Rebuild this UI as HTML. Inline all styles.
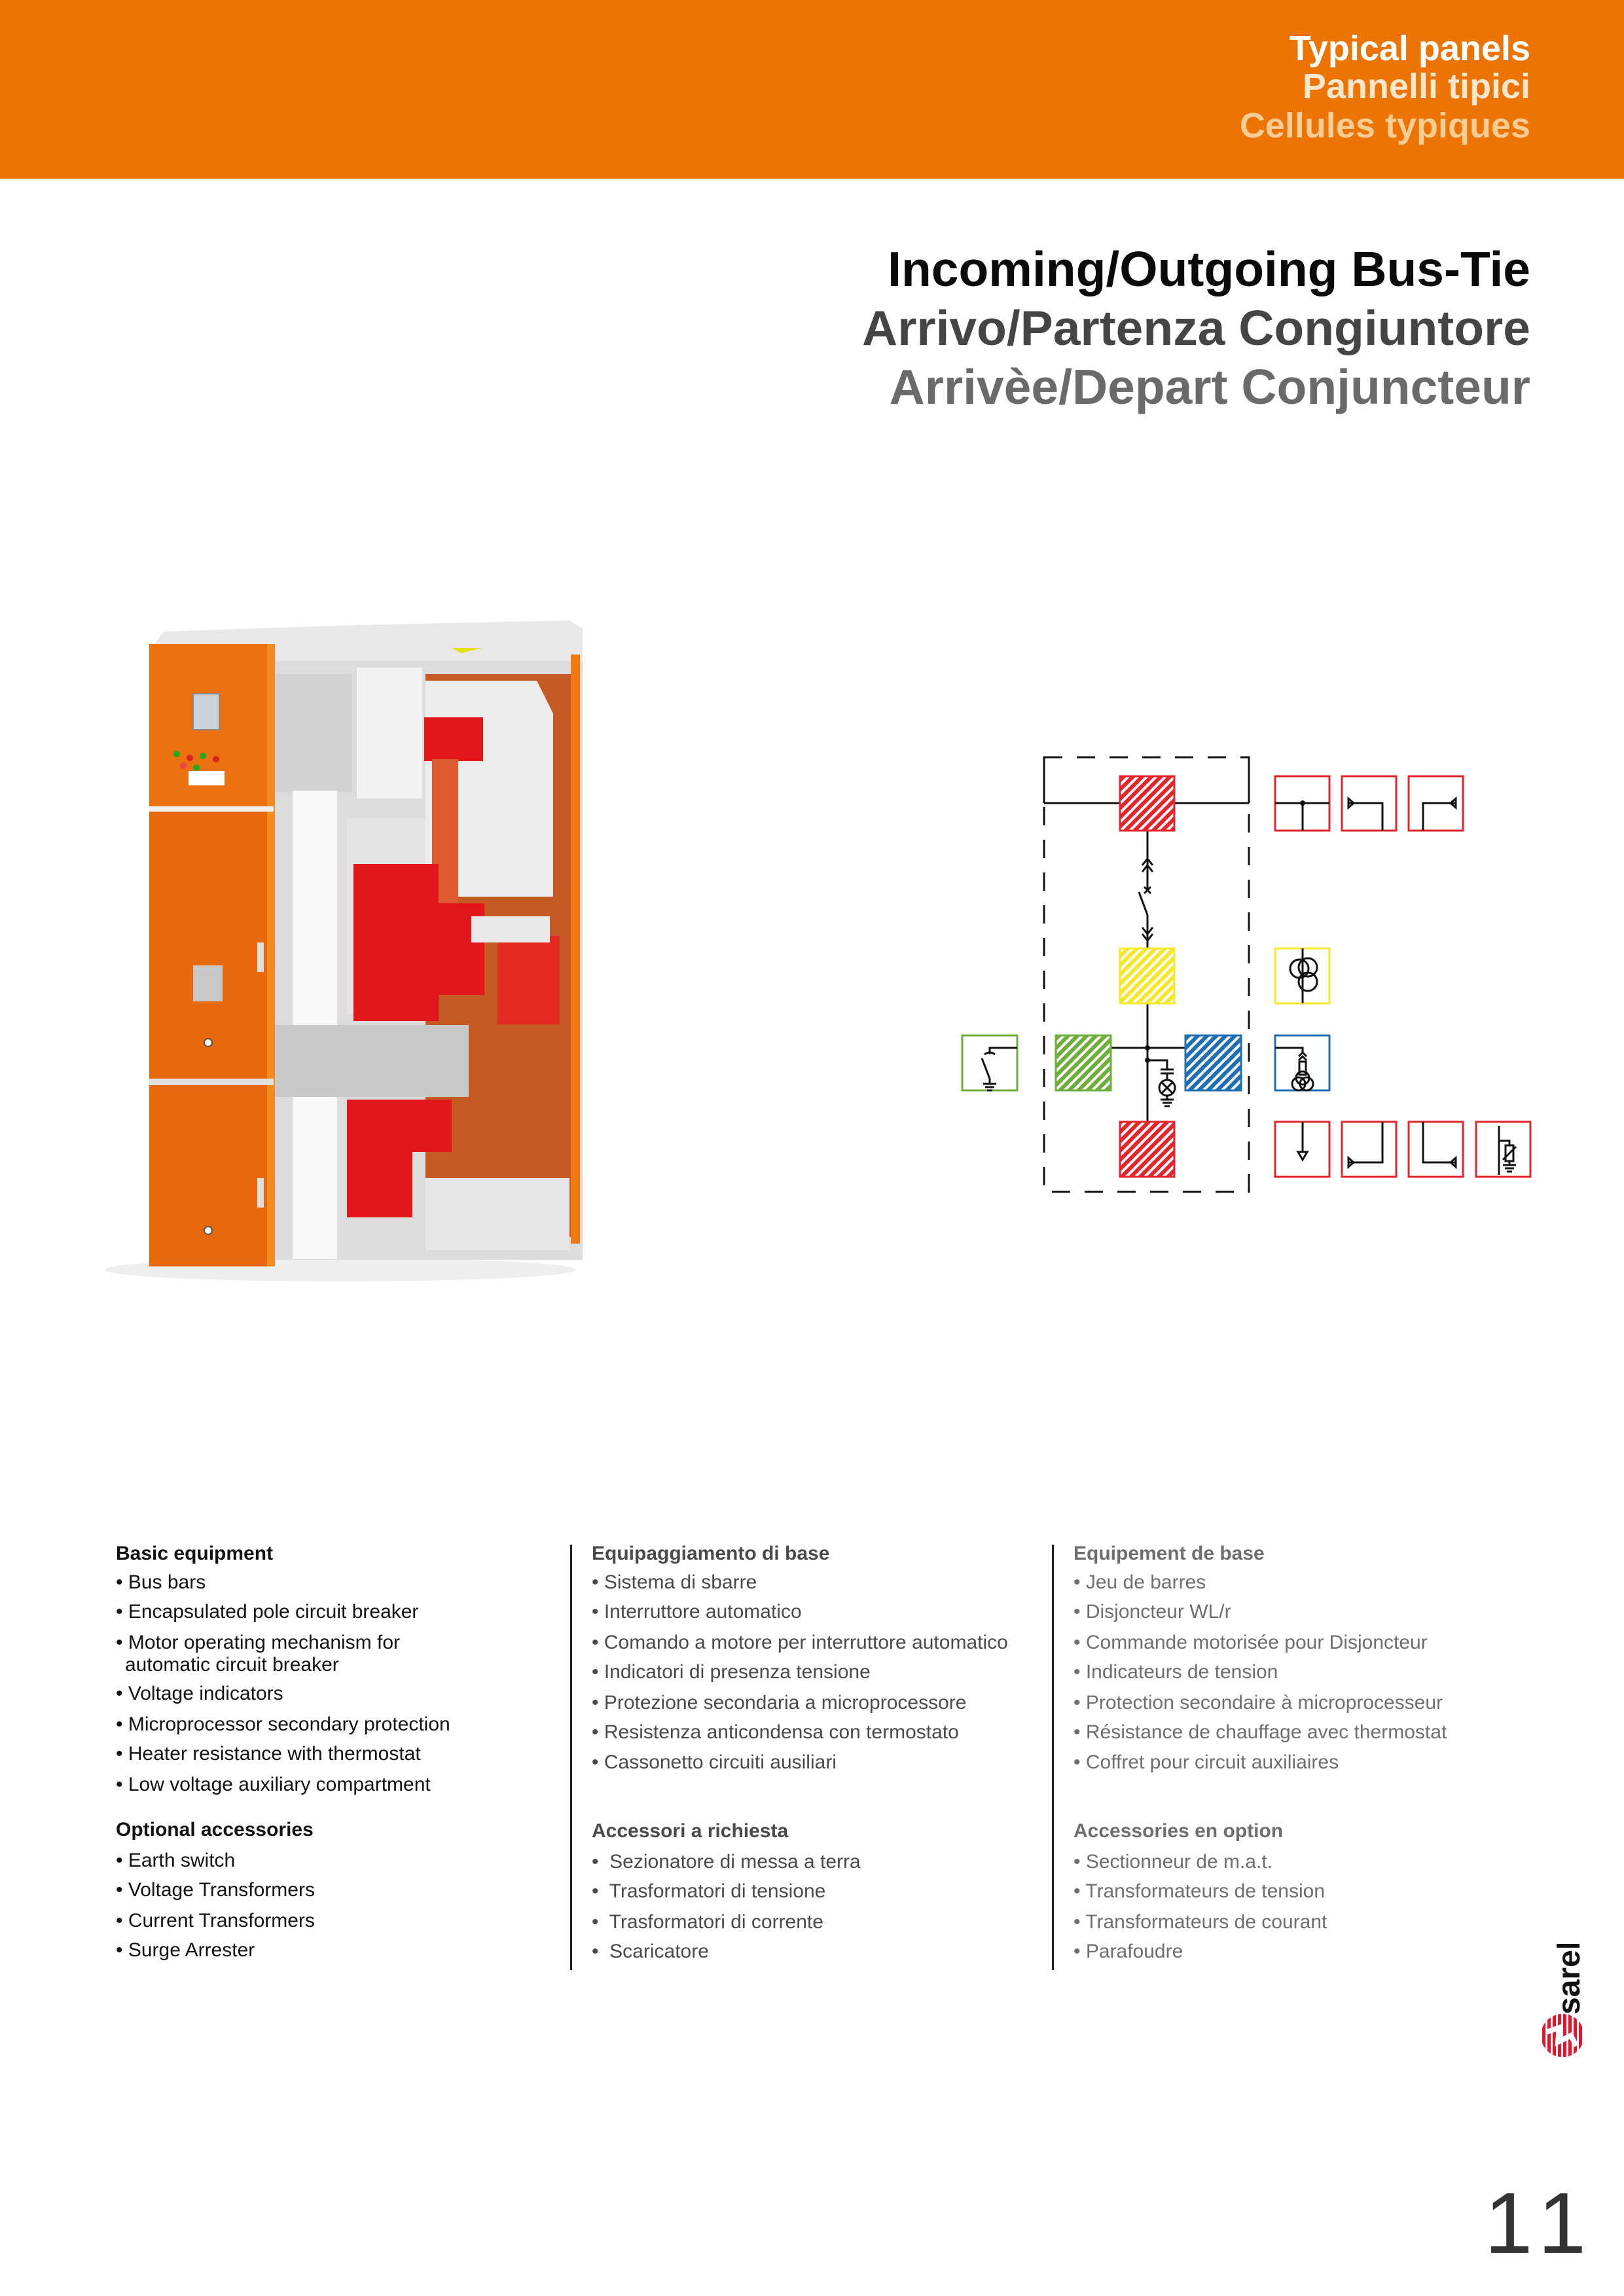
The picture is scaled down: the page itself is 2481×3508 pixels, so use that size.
<!DOCTYPE html>
<html><head><meta charset="utf-8">
<style>
html,body{margin:0;padding:0;background:#fff;}
body{width:2481px;height:3508px;position:relative;overflow:hidden;font-family:"Liberation Sans",sans-serif;}
.a{position:absolute;white-space:nowrap;}
.hd{right:143px;font-weight:bold;font-size:54px;line-height:60px;text-align:right;}
.tt{right:143px;font-weight:bold;font-size:75px;line-height:84px;text-align:right;}
.t{font-size:30px;line-height:34px;}
.b{font-weight:bold;}
.c1{color:#111;} .c2{color:#4a4a4a;} .c3{color:#6e6e6e;}
</style></head><body>
<div class="a" style="left:0;top:0;width:2481px;height:273px;background:#EC7405;"></div>
<div class="a hd" style="top:44px;color:#fff;">Typical panels</div>
<div class="a hd" style="top:102px;color:#fde6cc;">Pannelli tipici</div>
<div class="a hd" style="top:162px;color:#fbcc94;">Cellules typiques</div>

<div class="a tt" style="top:369px;color:#0a0a0a;">Incoming/Outgoing Bus-Tie</div>
<div class="a tt" style="top:459px;color:#454545;">Arrivo/Partenza Congiuntore</div>
<div class="a tt" style="top:549px;color:#6a6a6a;">Arrivèe/Depart Conjuncteur</div>

<svg class="a" style="left:0;top:0" width="1000" height="2000" viewBox="0 0 1000 2000">
<ellipse cx="520" cy="1940" rx="360" ry="18" fill="#eeeeee"/>
<polygon points="235,985 250,965 545,955 870,948 890,960 890,1015 420,1025" fill="#e8e8e8"/>
<polygon points="705,998 735,990 690,990" fill="#e6e000"/>
<polygon points="590,1020 620,1010 560,1010" fill="#e6e000"/>
<rect x="418" y="1010" width="472" height="915" fill="#dcdcdc"/>
<rect x="650" y="1030" width="228" height="860" fill="#c65a24"/>
<rect x="872" y="1000" width="14" height="900" fill="#f07a10"/>
<polygon points="650,1040 820,1040 845,1090 845,1370 650,1370" fill="#ececec"/>
<rect x="418" y="1030" width="120" height="180" fill="#d2d2d2"/>
<rect x="545" y="1020" width="100" height="200" fill="#f2f2f2"/>
<rect x="447" y="1208" width="68" height="716" fill="#f8f8f8"/>
<rect x="530" y="1250" width="120" height="300" fill="#e4e4e4"/>
<rect x="648" y="1096" width="90" height="67" fill="#e3161b"/>
<rect x="660" y="1160" width="40" height="220" fill="#e05a30"/>
<rect x="540" y="1320" width="130" height="240" fill="#e3161b"/>
<rect x="660" y="1380" width="80" height="140" fill="#e3161b"/>
<rect x="760" y="1430" width="95" height="135" fill="#e32a20"/>
<rect x="720" y="1400" width="120" height="40" fill="#e8e8e8"/>
<rect x="418" y="1566" width="298" height="110" fill="#c8c8c8"/>
<rect x="530" y="1680" width="100" height="180" fill="#e3161b"/>
<rect x="630" y="1680" width="60" height="80" fill="#e3161b"/>
<rect x="650" y="1800" width="220" height="110" fill="#e6e6e6"/>
<rect x="228" y="984" width="190" height="253" fill="#ec7010"/>
<rect x="228" y="1237" width="190" height="414" fill="#e8680c"/>
<rect x="228" y="1655" width="190" height="280" fill="#e8680c"/>
<rect x="408" y="984" width="12" height="951" fill="#f58a20"/>
<rect x="228" y="1232" width="190" height="8" fill="#f0f0f0"/>
<rect x="228" y="1648" width="190" height="10" fill="#e0e0e0"/>
<rect x="295" y="1060" width="40" height="55" fill="#c9d3da" stroke="#888" stroke-width="2"/>
<circle cx="270" cy="1152" r="5" fill="#2a2"/><circle cx="290" cy="1158" r="5" fill="#d22"/><circle cx="310" cy="1155" r="5" fill="#2a2"/><circle cx="330" cy="1160" r="5" fill="#d22"/>
<circle cx="280" cy="1170" r="5" fill="#e44"/><circle cx="300" cy="1173" r="5" fill="#2a2"/>
<rect x="295" y="1475" width="45" height="55" fill="#c8c8c8"/>
<rect x="288" y="1178" width="55" height="22" fill="#fff"/>
<circle cx="318" cy="1593" r="6" fill="#fff" stroke="#555" stroke-width="2"/>
<circle cx="318" cy="1880" r="6" fill="#fff" stroke="#555" stroke-width="2"/>
<rect x="393" y="1440" width="10" height="45" fill="#ddd"/>
<rect x="393" y="1800" width="10" height="45" fill="#ddd"/>
</svg>

<svg class="a" style="left:0;top:0" width="2481" height="2000" viewBox="0 0 2481 2000">
<defs>
<pattern id="pr" width="10" height="10" patternUnits="userSpaceOnUse" patternTransform="rotate(45)"><rect width="10" height="10" fill="#fff"/><rect width="6" height="10" fill="#e3262c"/></pattern>
<pattern id="py" width="10" height="10" patternUnits="userSpaceOnUse" patternTransform="rotate(45)"><rect width="10" height="10" fill="#fff"/><rect width="6" height="10" fill="#f5e72a"/></pattern>
<pattern id="pg" width="10" height="10" patternUnits="userSpaceOnUse" patternTransform="rotate(45)"><rect width="10" height="10" fill="#fff"/><rect width="6" height="10" fill="#6fae3a"/></pattern>
<pattern id="pb" width="10" height="10" patternUnits="userSpaceOnUse" patternTransform="rotate(45)"><rect width="10" height="10" fill="#fff"/><rect width="6" height="10" fill="#1f6fb5"/></pattern>
</defs>
<g fill="none" stroke="#111" stroke-width="3">
<rect x="1595" y="1157" width="313" height="664" stroke-dasharray="28,22"/>
<line x1="1595" y1="1157" x2="1595" y2="1227"/><line x1="1908" y1="1157" x2="1908" y2="1227"/>
<line x1="1595" y1="1227" x2="1908" y2="1227"/>
<line x1="1753" y1="1269" x2="1753" y2="1360"/>
<polyline points="1745,1322 1753,1312 1761,1322"/><polyline points="1745,1332 1753,1322 1761,1332"/>
<line x1="1748" y1="1355" x2="1758" y2="1365"/><line x1="1758" y1="1355" x2="1748" y2="1365"/>
<line x1="1740" y1="1363" x2="1753" y2="1398"/>
<line x1="1753" y1="1398" x2="1753" y2="1449"/>
<polyline points="1745,1417 1753,1427 1761,1417"/><polyline points="1745,1427 1753,1437 1761,1427"/>
<line x1="1753" y1="1533" x2="1753" y2="1714"/>
<line x1="1697" y1="1601" x2="1813" y2="1601"/>
<polyline points="1753,1620 1783,1620 1783,1634"/>
<line x1="1773" y1="1634" x2="1793" y2="1634"/><line x1="1773" y1="1640" x2="1793" y2="1640"/>
<line x1="1783" y1="1640" x2="1783" y2="1650"/>
<circle cx="1783" cy="1662" r="12"/>
<line x1="1775" y1="1654" x2="1791" y2="1670"/><line x1="1791" y1="1654" x2="1775" y2="1670"/>
<line x1="1783" y1="1674" x2="1783" y2="1680"/>
<line x1="1773" y1="1680" x2="1793" y2="1680"/><line x1="1776" y1="1685" x2="1790" y2="1685"/><line x1="1779" y1="1690" x2="1787" y2="1690"/>
</g>
<circle cx="1753" cy="1601" r="4" fill="#111"/><circle cx="1753" cy="1620" r="4" fill="#111"/>
<rect x="1711" y="1186" width="83" height="83" fill="url(#pr)" stroke="#e3262c" stroke-width="3"/>
<rect x="1711" y="1449" width="83" height="84" fill="url(#py)" stroke="#f5e72a" stroke-width="3"/>
<rect x="1613" y="1582" width="84" height="84" fill="url(#pg)" stroke="#6fae3a" stroke-width="3"/>
<rect x="1811" y="1582" width="85" height="84" fill="url(#pb)" stroke="#1f6fb5" stroke-width="3"/>
<rect x="1711" y="1714" width="83" height="84" fill="url(#pr)" stroke="#e3262c" stroke-width="3"/>
<g fill="none" stroke-width="3">
<rect x="1948" y="1186" width="83" height="83" stroke="#e3262c"/>
<rect x="2050" y="1186" width="83" height="83" stroke="#e3262c"/>
<rect x="2152" y="1186" width="83" height="83" stroke="#e3262c"/>
<rect x="1948" y="1449" width="83" height="84" stroke="#f5e72a"/>
<rect x="1948" y="1582" width="83" height="84" stroke="#1f6fb5"/>
<rect x="1470" y="1582" width="84" height="84" stroke="#6fae3a"/>
<rect x="1948" y="1714" width="83" height="84" stroke="#e3262c"/>
<rect x="2050" y="1714" width="83" height="84" stroke="#e3262c"/>
<rect x="2152" y="1714" width="83" height="84" stroke="#e3262c"/>
<rect x="2255" y="1714" width="83" height="84" stroke="#e3262c"/>
</g>
<g fill="none" stroke="#111" stroke-width="3">
<line x1="1948" y1="1227" x2="2031" y2="1227"/><line x1="1990" y1="1227" x2="1990" y2="1269"/>
<polyline points="2060,1227 2112,1227 2112,1269"/><polygon points="2060,1220 2060,1234 2068,1227"/>
<polyline points="2224,1227 2174,1227 2174,1269"/><polygon points="2224,1220 2224,1234 2216,1227"/>
<line x1="1990" y1="1449" x2="1990" y2="1533"/>
<circle cx="1985" cy="1480" r="14"/><circle cx="1998" cy="1478" r="14"/><circle cx="1998" cy="1500" r="14"/>
<polyline points="1948,1601 1990,1601 1990,1610"/>
<polyline points="1984,1614 1990,1608 1996,1614"/><polyline points="1984,1620 1990,1614 1996,1620"/>
<rect x="1985" y="1622" width="10" height="20"/>
<circle cx="1984" cy="1656" r="10"/><circle cx="1996" cy="1656" r="10"/><circle cx="1990" cy="1647" r="10"/>
<polyline points="1554,1601 1512,1601 1512,1611"/>
<path d="M1504,1611 q8,-6 16,0"/>
<line x1="1500" y1="1617" x2="1512" y2="1648"/>
<line x1="1512" y1="1648" x2="1512" y2="1656"/>
<line x1="1502" y1="1656" x2="1522" y2="1656"/><line x1="1505" y1="1661" x2="1519" y2="1661"/><line x1="1508" y1="1666" x2="1516" y2="1666"/>
<line x1="1990" y1="1714" x2="1990" y2="1760"/><polygon points="1983,1760 1997,1760 1990,1772"/>
<polyline points="2060,1776 2112,1776 2112,1714"/><polygon points="2060,1769 2060,1783 2068,1776"/>
<polyline points="2224,1776 2174,1776 2174,1714"/><polygon points="2224,1769 2224,1783 2216,1776"/>
<line x1="2290" y1="1720" x2="2290" y2="1795"/>
<polyline points="2290,1743 2306,1743 2306,1750"/>
<rect x="2300" y="1750" width="12" height="24"/>
<line x1="2296" y1="1772" x2="2316" y2="1752"/>
<line x1="2306" y1="1774" x2="2306" y2="1780"/>
<line x1="2296" y1="1780" x2="2316" y2="1780"/><line x1="2299" y1="1785" x2="2313" y2="1785"/><line x1="2302" y1="1790" x2="2310" y2="1790"/>
</g>
<circle cx="1990" cy="1227" r="4" fill="#111"/>
</svg>

<div class="a" style="left:871px;top:2360px;width:3px;height:650px;background:#222;"></div>
<div class="a" style="left:1607px;top:2360px;width:3px;height:650px;background:#222;"></div>

<div class="a t b c1" style="left:177px;top:2357px;">Basic equipment</div>
<div class="a t c1" style="left:177px;top:2401px;">• Bus bars</div>
<div class="a t c1" style="left:177px;top:2446px;">• Encapsulated pole circuit breaker</div>
<div class="a t c1" style="left:177px;top:2493px;">• Motor operating mechanism for</div>
<div class="a t c1" style="left:191px;top:2527px;">automatic circuit breaker</div>
<div class="a t c1" style="left:177px;top:2571px;">• Voltage indicators</div>
<div class="a t c1" style="left:177px;top:2618px;">• Microprocessor secondary protection</div>
<div class="a t c1" style="left:177px;top:2663px;">• Heater resistance with thermostat</div>
<div class="a t c1" style="left:177px;top:2710px;">• Low voltage auxiliary compartment</div>
<div class="a t b c1" style="left:177px;top:2779px;">Optional accessories</div>
<div class="a t c1" style="left:177px;top:2826px;">• Earth switch</div>
<div class="a t c1" style="left:177px;top:2871px;">• Voltage Transformers</div>
<div class="a t c1" style="left:177px;top:2918px;">• Current Transformers</div>
<div class="a t c1" style="left:177px;top:2963px;">• Surge Arrester</div>

<div class="a t b c2" style="left:904px;top:2357px;">Equipaggiamento di base</div>
<div class="a t c2" style="left:904px;top:2401px;">• Sistema di sbarre</div>
<div class="a t c2" style="left:904px;top:2446px;">• Interruttore automatico</div>
<div class="a t c2" style="left:904px;top:2493px;">• Comando a motore per interruttore automatico</div>
<div class="a t c2" style="left:904px;top:2538px;">• Indicatori di presenza tensione</div>
<div class="a t c2" style="left:904px;top:2585px;">• Protezione secondaria a microprocessore</div>
<div class="a t c2" style="left:904px;top:2630px;">• Resistenza anticondensa con termostato</div>
<div class="a t c2" style="left:904px;top:2676px;">• Cassonetto circuiti ausiliari</div>
<div class="a t b c2" style="left:904px;top:2781px;">Accessori a richiesta</div>
<div class="a t c2" style="left:904px;top:2828px;">•&nbsp; Sezionatore di messa a terra</div>
<div class="a t c2" style="left:904px;top:2873px;">•&nbsp; Trasformatori di tensione</div>
<div class="a t c2" style="left:904px;top:2920px;">•&nbsp; Trasformatori di corrente</div>
<div class="a t c2" style="left:904px;top:2965px;">•&nbsp; Scaricatore</div>

<div class="a t b c3" style="left:1640px;top:2357px;">Equipement de base</div>
<div class="a t c3" style="left:1640px;top:2401px;">• Jeu de barres</div>
<div class="a t c3" style="left:1640px;top:2446px;">• Disjoncteur WL/r</div>
<div class="a t c3" style="left:1640px;top:2493px;">• Commande motorisée pour Disjoncteur</div>
<div class="a t c3" style="left:1640px;top:2538px;">• Indicateurs de tension</div>
<div class="a t c3" style="left:1640px;top:2585px;">• Protection secondaire à microprocesseur</div>
<div class="a t c3" style="left:1640px;top:2630px;">• Résistance de chauffage avec thermostat</div>
<div class="a t c3" style="left:1640px;top:2676px;">• Coffret pour circuit auxiliaires</div>
<div class="a t b c3" style="left:1640px;top:2781px;">Accessories en option</div>
<div class="a t c3" style="left:1640px;top:2828px;">• Sectionneur de m.a.t.</div>
<div class="a t c3" style="left:1640px;top:2873px;">• Transformateurs de tension</div>
<div class="a t c3" style="left:1640px;top:2920px;">• Transformateurs de courant</div>
<div class="a t c3" style="left:1640px;top:2965px;">• Parafoudre</div>

<svg class="a" style="left:2340px;top:2970px" width="100" height="190" viewBox="0 0 100 190">
<defs><pattern id="lr" width="8" height="8" patternUnits="userSpaceOnUse"><rect width="8" height="8" fill="#fff"/><rect width="5" height="8" fill="#e3162b"/></pattern></defs>
<circle cx="47" cy="140" r="33" fill="url(#lr)"/>
<polyline points="22,135 42,128 40,150 60,140 68,156" fill="none" stroke="#fff" stroke-width="8"/>
<text x="0" y="0" transform="translate(73,108) rotate(-90)" font-family="Liberation Sans,sans-serif" font-weight="bold" font-size="48" fill="#111">sarel</text>
</svg>

<div class="a" style="left:2268px;top:3322px;font-size:132px;line-height:150px;color:#333;letter-spacing:18px;">11</div>
</body></html>
